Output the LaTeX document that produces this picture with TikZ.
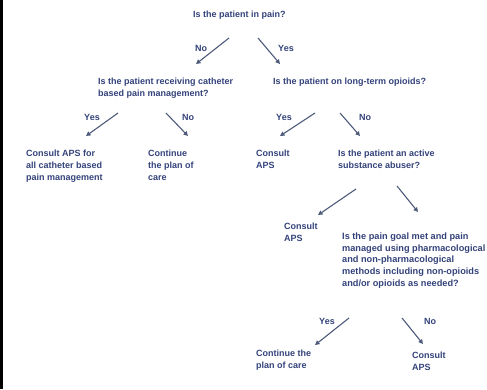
\documentclass[tikz,border=0pt]{standalone}
\usepackage{fontspec}
\setmainfont{Liberation Sans}
\usetikzlibrary{arrows.meta}
\definecolor{txt}{HTML}{33427A}
\definecolor{arr}{HTML}{4E5A7A}
\begin{document}
\begin{tikzpicture}[x=1pt,y=-1pt,
  lbl/.style={anchor=north west,inner sep=0pt,align=left,text=txt,
    font=\fontsize{9}{12}\selectfont\bfseries},
  big/.style={lbl,font=\fontsize{9.2}{11.8}\selectfont\bfseries},
  yn/.style={inner sep=0pt,text=txt,font=\fontsize{9}{10}\selectfont\bfseries},
  conn/.style={draw=arr,line width=1.1pt,-{Triangle[length=4.5pt,width=4.5pt]}}]
\useasboundingbox (0,0) rectangle (487,389);
\fill[black] (0,0) rectangle (2.5,389);
% texts
\node[lbl] (q1) at (193,10.5) {Is the patient in pain?};
\node[lbl] (q2) at (98,77.5) {Is the patient receiving catheter\\based pain management?};
\node[lbl] (q3) at (273,77.5) {Is the patient on long-term opioids?};
\node[lbl] (c1) at (26,149.5) {Consult APS for\\all catheter based\\pain management};
\node[lbl] (c2) at (148,149.5) {Continue\\the plan of\\care};
\node[lbl] (c3) at (256,149.5) {Consult\\APS};
\node[lbl] (q4) at (338,149.5) {Is the patient an active\\substance abuser?};
\node[lbl] (c4) at (284,222.5) {Consult\\APS};
\node[big] (q5) at (342,232.5) {Is the pain goal met and pain\\managed using pharmacological\\and non-pharmacological\\methods including non-opioids\\and/or opioids as needed?};
\node[lbl] (c5) at (256,349.5) {Continue the\\plan of care};
\node[lbl] (c6) at (412,351.5) {Consult\\APS};
% connector end points
\coordinate (a1s) at (229,38); \coordinate (a1e) at (196,64);
\coordinate (a2s) at (258,38); \coordinate (a2e) at (280,64);
\coordinate (b1s) at (118,113); \coordinate (b1e) at (86,136);
\coordinate (b2s) at (166,113); \coordinate (b2e) at (188,136);
\coordinate (b3s) at (315,113); \coordinate (b3e) at (280,136);
\coordinate (b4s) at (340,113); \coordinate (b4e) at (360,136);
\coordinate (d1s) at (356,189); \coordinate (d1e) at (318,215);
\coordinate (d2s) at (397,186); \coordinate (d2e) at (418,212);
\coordinate (e1s) at (349,318); \coordinate (e1e) at (315,345);
\coordinate (e2s) at (402,318); \coordinate (e2e) at (423,344);
\draw[conn] (a1s) -- (a1e);
\draw[conn] (a2s) -- (a2e);
\draw[conn] (b1s) -- (b1e);
\draw[conn] (b2s) -- (b2e);
\draw[conn] (b3s) -- (b3e);
\draw[conn] (b4s) -- (b4e);
\draw[conn] (d1s) -- (d1e);
\draw[conn] (d2s) -- (d2e);
\draw[conn] (e1s) -- (e1e);
\draw[conn] (e2s) -- (e2e);
% yes/no labels
\node[yn] (l1) at (201,48) {No};
\node[yn] (l2) at (286,48) {Yes};
\node[yn] (l3) at (92,117) {Yes};
\node[yn] (l4) at (188,117) {No};
\node[yn] (l5) at (284,117) {Yes};
\node[yn] (l6) at (365,117) {No};
\node[yn] (l7) at (327,321) {Yes};
\node[yn] (l8) at (430,321) {No};
\end{tikzpicture}
\end{document}
